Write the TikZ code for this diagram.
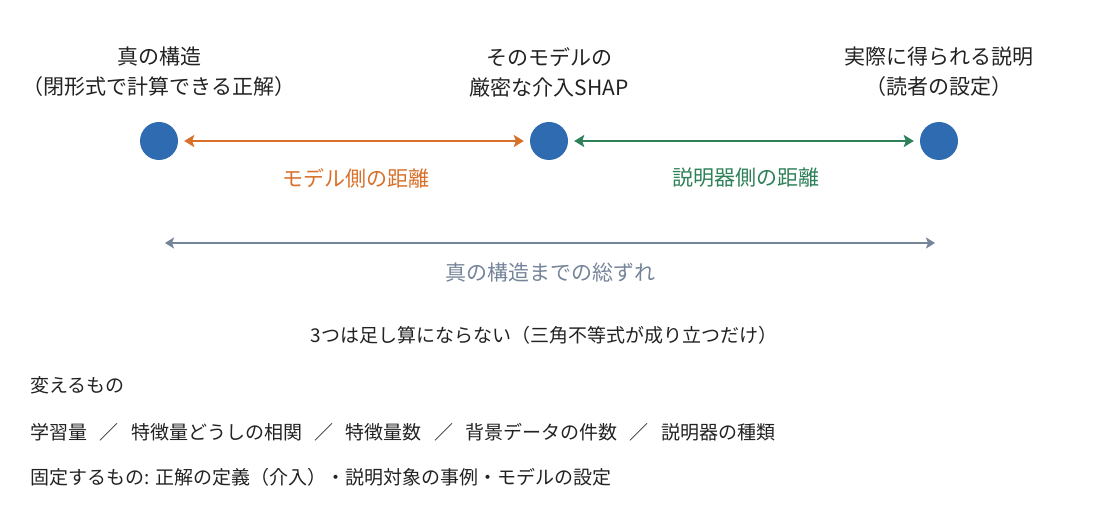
\documentclass[tikz,border=0pt]{standalone}
\usepackage{fontspec}
\setmainfont{Noto Sans CJK JP}
\usetikzlibrary{arrows.meta}
\definecolor{dotc}{HTML}{2E6BB0}
\definecolor{orc}{HTML}{D9702A}
\definecolor{grc}{HTML}{2E8058}
\definecolor{gyc}{HTML}{758499}
\definecolor{txc}{HTML}{222222}
\newcommand{\sep}{\hspace{0.65em}／\hspace{0.65em}}
\begin{document}
\begin{tikzpicture}[x=1pt,y=-1pt,
  dot/.style={circle,fill=dotc,minimum size=38pt,inner sep=0},
  ttl/.style={font=\fontsize{21}{30}\selectfont,text=txc,align=center},
  dist/.style={line width=2.8pt,{Stealth[length=10pt,width=12pt,inset=2pt]}-{Stealth[length=10pt,width=12pt,inset=2pt]}},
  lbl/.style={font=\fontsize{21}{24}\selectfont},
  body/.style={font=\fontsize{19}{22}\selectfont,text=txc,anchor=west}]
\useasboundingbox (0,0) rectangle (1099,526);
\node[dot] (a) at (159,141) {};
\node[dot] (b) at (549,141) {};
\node[dot] (c) at (939,141) {};
\node[ttl] (ta) at (159,72) {真の構造\\（閉形式で計算できる正解）};
\node[ttl] (tb) at (549,72) {そのモデルの\\厳密な介入SHAP};
\node[ttl] (tc) at (939,72) {実際に得られる説明\\（読者の設定）};
\draw[dist,orc] ([xshift=6pt]a.east) -- ([xshift=-6pt]b.west);
\draw[dist,grc] ([xshift=6pt]b.east) -- ([xshift=-6pt]c.west);
\node[lbl,text=orc] (lo) at (356,178) {モデル側の距離};
\node[lbl,text=grc] (lg) at (746,178) {説明器側の距離};
\coordinate (g1) at (165,243);
\coordinate (g2) at (935,243);
\draw[gyc,line width=2.4pt,{Stealth[length=9pt,width=11pt,inset=2pt]}-{Stealth[length=9pt,width=11pt,inset=2pt]}] (g1) -- (g2);
\node[lbl,text=gyc] (lt) at (550,273) {真の構造までの総ずれ};
\node[font=\fontsize{19}{22}\selectfont,text=txc] (n1) at (544,335) {3つは足し算にならない（三角不等式が成り立つだけ）};
\node[body] (n2) at (27,385) {変えるもの};
\node[body] (n3) at (27,432) {学習量\sep 特徴量どうしの相関\sep 特徴量数\sep 背景データの件数\sep 説明器の種類};
\node[body] (n4) at (27,477) {固定するもの: 正解の定義（介入）・説明対象の事例・モデルの設定};
\end{tikzpicture}
\end{document}
